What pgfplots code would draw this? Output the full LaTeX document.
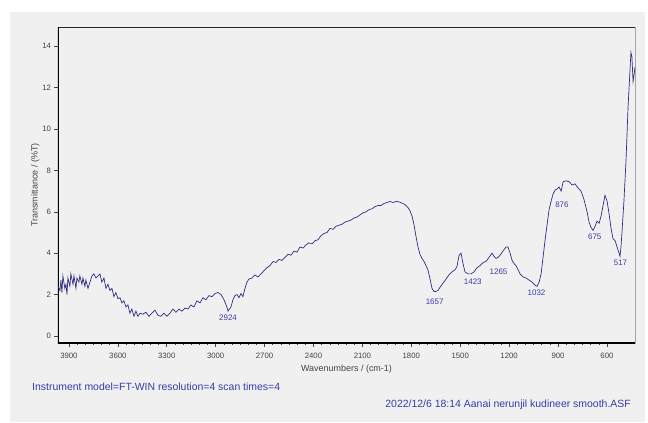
\documentclass[border=0pt]{standalone}
\usepackage{pgfplots}
\pgfplotsset{compat=1.18}
\usepackage{fontspec}
\setmainfont{Liberation Sans}
\definecolor{bggray}{HTML}{F0F0F0}
\definecolor{spec}{HTML}{2E2E82}
\definecolor{lbl}{HTML}{3A3AA8}
\definecolor{tk}{HTML}{444444}
\begin{document}
\begin{tikzpicture}[x=1bp,y=1bp]
\path (0,0) rectangle (648,422);
\fill[bggray] (10,0) rectangle (645,410);
\begin{axis}[
  at={(58bp,79bp)}, anchor=south west,
  scale only axis, width=577bp, height=316bp,
  x dir=reverse,
  xmin=428, xmax=3967, ymin=-0.34, ymax=14.93,
  xtick={600,900,...,3900},
  minor x tick num=5,
  ytick={0,2,...,14},
  tick align=outside,
  major tick length=3.5bp, minor tick length=2bp,
  tick style={tk, line width=0.5pt},
  ticklabel style={font=\fontsize{7.8}{9}\selectfont, text=tk},
  xticklabel style={yshift=-3bp},
  /pgf/number format/assume math mode=true,
  /pgf/number format/1000 sep={},
  axis line style={draw=gray!70, line width=0.6pt},
  axis background/.style={fill=bggray},
  xtick pos=bottom, ytick pos=left,
  xlabel={Wavenumbers / (cm-1)},
  ylabel={Transmittance / (\%T)},
  label style={font=\fontsize{9}{10}\selectfont, text=tk},
  xlabel style={yshift=0bp},
  ylabel style={yshift=-4bp},
  clip=true,
]
\draw[black!85, line width=0.8pt] (rel axis cs:0,1) -- (rel axis cs:1,1);
\draw[black, line width=1.1pt] (rel axis cs:0,1) -- (rel axis cs:0,0) -- (rel axis cs:1,0);
\addplot[spec, line width=0.7pt] coordinates {
(3967,2.4)(3955,2.2)(3949,2.7)(3943,2.1)(3937,2.9)(3925,2.3)(3918,2.5)(3912,2.0)(3906,2.8)
(3894,2.4)(3888,3.0)(3875,2.5)(3869,2.9)(3857,2.3)(3851,2.8)(3839,2.6)(3833,2.9)(3820,2.5)
(3814,2.8)(3802,2.4)(3796,2.7)(3783,2.3)(3771,2.6)(3759,2.9)(3747,3.0)(3734,2.8)(3722,2.9)
(3710,3.0)(3698,2.6)(3685,2.8)(3673,2.3)(3661,2.5)(3648,2.2)(3636,2.3)(3624,1.9)(3612,2.1)
(3599,1.8)(3587,1.85)(3575,1.6)(3563,1.7)(3550,1.4)(3538,1.5)(3526,1.1)(3514,1.3)(3501,0.95)
(3489,1.2)(3477,0.95)(3464,1.1)(3446,1.05)(3428,1.15)(3409,0.95)(3391,1.1)(3372,1.25)(3354,1.0)
(3336,0.95)(3317,1.1)(3299,0.95)(3280,1.1)(3262,1.3)(3244,1.15)(3225,1.3)(3207,1.2)(3188,1.35)
(3170,1.3)(3152,1.5)(3133,1.4)(3115,1.7)(3096,1.6)(3078,1.85)(3060,1.75)(3041,1.95)(3023,1.9)
(3004,2.05)(2986,2.1)(2967,2.0)(2949,1.75)(2931,1.4)(2924,1.2)(2906,1.4)(2894,1.75)(2882,1.95)
(2869,2.0)(2857,1.85)(2845,2.05)(2833,1.9)(2820,2.3)(2808,2.6)(2796,2.75)(2777,2.8)(2759,2.95)
(2741,2.85)(2722,3.0)(2704,3.15)(2685,3.3)(2667,3.4)(2648,3.6)(2630,3.55)(2612,3.7)(2593,3.65)
(2575,3.8)(2556,3.95)(2538,3.9)(2520,4.1)(2501,4.05)(2483,4.3)(2464,4.25)(2446,4.4)(2428,4.5)
(2409,4.45)(2391,4.6)(2372,4.65)(2354,4.85)(2336,4.95)(2317,5.0)(2299,5.2)(2280,5.15)(2262,5.3)
(2244,5.35)(2225,5.4)(2207,5.5)(2189,5.55)(2170,5.6)(2152,5.7)(2133,5.75)(2115,5.85)(2096,5.95)
(2078,6.0)(2060,6.1)(2041,6.15)(2023,6.25)(2004,6.3)(1986,6.3)(1968,6.4)(1949,6.45)(1931,6.5)
(1912,6.45)(1894,6.5)(1876,6.48)(1857,6.42)(1839,6.35)(1820,6.2)(1808,6.05)(1796,5.8)(1784,5.4)
(1771,4.8)(1759,4.3)(1747,3.95)(1735,3.75)(1722,3.6)(1710,3.4)(1698,3.2)(1685,2.75)(1673,2.3)
(1661,2.15)(1649,2.15)(1636,2.2)(1624,2.35)(1606,2.55)(1587,2.75)(1569,2.95)(1550,3.1)(1532,3.2)
(1520,3.35)(1507,3.9)(1495,4.0)(1483,3.5)(1471,3.1)(1452,3.0)(1434,3.0)(1415,3.1)(1397,3.3)
(1378,3.4)(1360,3.55)(1342,3.6)(1323,3.8)(1305,4.0)(1293,3.85)(1280,3.75)(1268,3.8)(1256,3.9)
(1238,4.1)(1219,4.3)(1207,4.3)(1194,4.0)(1182,3.65)(1170,3.5)(1158,3.4)(1145,3.2)(1133,3.0)
(1114,2.85)(1096,2.8)(1078,2.7)(1059,2.6)(1041,2.45)(1029,2.4)(1016,2.6)(1004,3.0)(992,3.8)
(980,4.6)(967,5.4)(955,6.1)(943,6.5)(931,6.85)(918,7.05)(906,7.1)(894,7.2)(881,7.0)(869,7.45)
(851,7.5)(832,7.45)(814,7.3)(796,7.35)(777,7.15)(759,7.0)(741,6.6)(722,6.0)(710,5.5)(698,5.25)
(685,5.1)(673,5.3)(661,5.55)(648,5.45)(636,5.8)(624,6.3)(612,6.8)(599,6.5)(587,5.9)(575,5.2)
(563,4.7)(550,4.6)(538,4.3)(526,4.0)(520,3.85)(514,4.3)(508,5.0)(496,6.5)(483,8.5)(471,11.0)
(459,12.8)(453,13.7)(447,13.5)(440,12.3)(434,12.6)(428,13.0)
};
\begin{scope}[every node/.style={font=\fontsize{8}{9}\selectfont, text=lbl}]
\node at (axis cs:2924,0.87) {2924};
\node at (axis cs:1657,1.64) {1657};
\node at (axis cs:1423,2.6) {1423};
\node at (axis cs:1265,3.1) {1265};
\node at (axis cs:1032,2.08) {1032};
\node at (axis cs:876,6.33) {876};
\node at (axis cs:675,4.78) {675};
\node at (axis cs:517,3.53) {517};
\end{scope}
\end{axis}
\node[anchor=west, font=\fontsize{10.5}{12}\selectfont, text=lbl, inner sep=0pt] at (32,35) {Instrument model=FT-WIN resolution=4 scan times=4};
\node[anchor=east, font=\fontsize{10.5}{12}\selectfont, text=lbl, inner sep=0pt] at (631,17) {2022/12/6 18:14 Aanai nerunjil kudineer smooth.ASF};
\end{tikzpicture}
\end{document}
